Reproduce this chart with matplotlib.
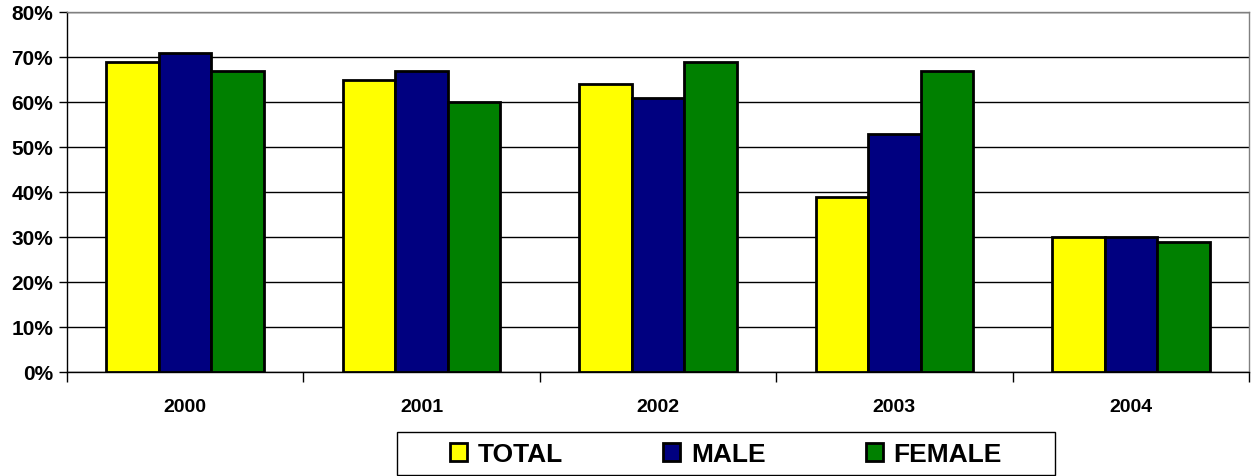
import matplotlib
matplotlib.use("Agg")
import matplotlib.pyplot as plt
import numpy as np
from matplotlib.ticker import FuncFormatter
from matplotlib.patches import Rectangle

years = ["2000", "2001", "2002", "2003", "2004"]
series_names = ["TOTAL", "MALE", "FEMALE"]
total = [69, 65, 64, 39, 30]
male = [71, 67, 61, 53, 30]
female = [67, 60, 69, 67, 29]
colors = ["#FFFF00", "#000080", "#008000"]

plt.rcParams['font.family'] = ['Liberation Sans', 'DejaVu Sans']
W, H = 1253, 477
fig = plt.figure(figsize=(W/100, H/100), dpi=100)
ax = fig.add_axes([67/W, (H-373)/H, (1249-67)/W, (373-13)/H])

x = np.arange(len(years))
w = 1/4.5
for i, (vals, name, c) in enumerate(zip([total, male, female], series_names, colors)):
    ax.bar(x + (i-1)*w, vals, width=w, color=c, edgecolor="black", linewidth=2, label=name, zorder=3)

ax.set_xlim(-0.5, len(years)-0.5)
ax.set_ylim(0, 80)
ax.set_yticks(np.arange(0, 81, 10))
ax.yaxis.set_major_formatter(FuncFormatter(lambda v, p: f"{int(v)}%"))
ax.grid(axis="y", color="black", linewidth=1, zorder=0)
ax.set_xticks(x)
ax.set_xticklabels(years)
ax.set_xticks(np.arange(-0.5, len(years)), minor=True)
ax.tick_params(axis="x", which="major", length=0, pad=19, labelsize=14)
ax.tick_params(axis="x", which="minor", length=7, width=1, direction="out")
ax.tick_params(axis="y", length=6, width=1, direction="out", labelsize=15, pad=4)
for lab in ax.get_xticklabels() + ax.get_yticklabels():
    lab.set_fontweight("bold")
for s in ["left", "bottom"]:
    ax.spines[s].set_color("#000000")
    ax.spines[s].set_linewidth(1)
for s in ["top", "right"]:
    ax.spines[s].set_color("#808080")
    ax.spines[s].set_linewidth(1)

leg = fig.legend(loc="center", bbox_to_anchor=(726/W, 1-455/H), ncol=3,
                 prop={"weight": "bold", "size": 19}, frameon=False,
                 handlelength=0.65, handleheight=0.65, handletextpad=0.4,
                 columnspacing=3.8, borderpad=0.2)
fig.patches.append(Rectangle((397/W, 1-476/H), (1055-397)/W, (476-433)/H,
                             transform=fig.transFigure, fill=False,
                             edgecolor="black", linewidth=1))

fig.savefig("out.png", dpi=100)
